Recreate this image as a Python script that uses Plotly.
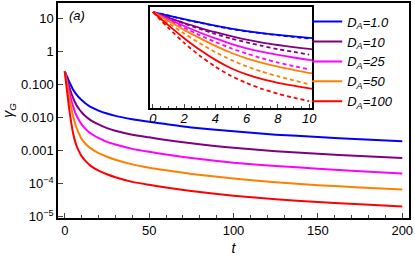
import plotly.graph_objects as go

# time samples (main panel)
T = [0, 1, 2, 3, 4, 5, 6, 7, 8, 9, 10, 12, 15, 20, 25, 30, 40, 50, 60, 75, 100, 125, 150, 175, 200]

# log10(gamma_G), solid curves
LOG_D1 = [-0.60, -0.72, -0.84, -0.95, -1.06, -1.16, -1.24, -1.31, -1.37, -1.42, -1.47,
          -1.56, -1.67, -1.79, -1.88, -1.95, -2.05, -2.13, -2.20, -2.30, -2.42, -2.52, -2.59, -2.66, -2.72]
LOG_D10 = [-0.60, -0.79, -0.97, -1.13, -1.28, -1.41, -1.53, -1.63, -1.71, -1.78, -1.84,
           -1.95, -2.07, -2.21, -2.32, -2.40, -2.52, -2.60, -2.68, -2.78, -2.92, -3.02, -3.10, -3.17, -3.23]
LOG_D25 = [-0.60, -0.84, -1.07, -1.29, -1.49, -1.67, -1.82, -1.94, -2.04, -2.13, -2.21,
           -2.33, -2.47, -2.62, -2.74, -2.82, -2.95, -3.04, -3.12, -3.23, -3.37, -3.47, -3.55, -3.63, -3.70]
LOG_D50 = [-0.60, -0.90, -1.20, -1.48, -1.74, -1.97, -2.16, -2.31, -2.44, -2.55, -2.65,
           -2.78, -2.92, -3.08, -3.19, -3.28, -3.42, -3.52, -3.60, -3.71, -3.85, -3.96, -4.05, -4.12, -4.18]
LOG_D100 = [-0.60, -1.05, -1.48, -1.87, -2.21, -2.49, -2.70, -2.86, -2.98, -3.08, -3.17,
            -3.30, -3.45, -3.61, -3.72, -3.81, -3.95, -4.04, -4.12, -4.23, -4.37, -4.48, -4.56, -4.63, -4.70]

# inset dashed curves (t = 0..10)
T_INSET = [0, 1, 2, 3, 4, 5, 6, 7, 8, 9, 10]
LOGD_D1 = [-0.60, -0.72, -0.85, -0.96, -1.07, -1.17, -1.25, -1.32, -1.38, -1.44, -1.49]
LOGD_D10 = [-0.60, -0.80, -0.99, -1.17, -1.34, -1.49, -1.62, -1.74, -1.85, -1.94, -2.03]
LOGD_D25 = [-0.60, -0.87, -1.13, -1.38, -1.61, -1.82, -2.00, -2.16, -2.30, -2.42, -2.53]
LOGD_D50 = [-0.60, -0.97, -1.32, -1.65, -1.95, -2.21, -2.43, -2.61, -2.76, -2.90, -3.03]
LOGD_D100 = [-0.60, -1.14, -1.64, -2.07, -2.44, -2.75, -2.99, -3.19, -3.35, -3.48, -3.60]

LABELS = ["<i>D<sub>A</sub>=1.0</i>", "<i>D<sub>A</sub>=10</i>", "<i>D<sub>A</sub>=25</i>",
          "<i>D<sub>A</sub>=50</i>", "<i>D<sub>A</sub>=100</i>"]
COLORS = ["#0000ff", "#800080", "#ff00ff", "#ff8000", "#ff0000"]

Y_TICKVALS = [1e1, 1, 1e-1, 1e-2, 1e-3, 1e-4, 1e-5]
Y_TICKTEXT = ["10", "1", "0.100", "0.010", "0.001", "10<sup>\u22124</sup>", "10<sup>\u22125</sup>"]
X_TICKVALS = [0, 50, 100, 150, 200]
XI_TICKVALS = [0, 2, 4, 6, 8, 10]

solid = [LOG_D1, LOG_D10, LOG_D25, LOG_D50, LOG_D100]
dashed = [LOGD_D1, LOGD_D10, LOGD_D25, LOGD_D50, LOGD_D100]

FONT = "Liberation Sans, Arial, sans-serif"

fig = go.Figure()
for lab, col, s in zip(LABELS, COLORS, solid):
    fig.add_trace(go.Scatter(x=T, y=[10 ** v for v in s], mode="lines", name=lab,
                             line=dict(color=col, width=2, shape="spline", smoothing=0.6),
                             xaxis="x", yaxis="y"))
for lab, col, s, d in zip(LABELS, COLORS, solid, dashed):
    fig.add_trace(go.Scatter(x=T, y=[10 ** v for v in s], mode="lines", showlegend=False,
                             line=dict(color=col, width=1.8, shape="spline", smoothing=0.6),
                             xaxis="x2", yaxis="y2"))
    fig.add_trace(go.Scatter(x=T_INSET, y=[10 ** v for v in d], mode="lines", showlegend=False,
                             line=dict(color=col, width=1.8, dash="4px,3px", shape="spline", smoothing=0.6),
                             xaxis="x2", yaxis="y2"))

fig.update_layout(
    width=415, height=262,
    margin=dict(l=58, r=5, t=1, b=44),
    paper_bgcolor="white", plot_bgcolor="white",
    font=dict(family=FONT, size=13, color="black"),
    xaxis=dict(domain=[0, 1], range=[-4, 204], tickvals=X_TICKVALS, ticks="inside", ticklen=5,
               tickwidth=1, showline=True, linecolor="black", linewidth=1.5, mirror=True,
               showgrid=False, zeroline=False,
               minor=dict(dtick=10, ticks="inside", ticklen=3, tickwidth=1, showgrid=False),
               title=dict(text="<i>t</i>", font=dict(size=14), standoff=6)),
    yaxis=dict(domain=[0, 1], type="log", range=[-5.045, 1.47], tickvals=Y_TICKVALS,
               ticktext=Y_TICKTEXT, ticks="inside", ticklen=5, tickwidth=1, showline=True,
               linecolor="black", linewidth=1.5, mirror=True, showgrid=False, zeroline=False,
               title=dict(text="<i>\u03b3<sub>G</sub></i>", font=dict(size=14), standoff=4)),
    xaxis2=dict(domain=[0.2614, 0.7244], anchor="y2", range=[-0.2, 10.2], tickvals=XI_TICKVALS,
                ticks="inside", ticklen=4, tickwidth=1, showline=True, linecolor="black",
                linewidth=2, mirror=True, showgrid=False, zeroline=False,
                tickfont=dict(size=13, style="italic"), ticklabelstandoff=-3,
                minor=dict(dtick=0.5, ticks="inside", ticklen=2, tickwidth=1, showgrid=False)),
    yaxis2=dict(domain=[0.5115, 0.9816], anchor="x2", type="log", range=[-3.83, -0.43],
                showticklabels=False, ticks="", showline=True, linecolor="black", linewidth=2,
                mirror=True, showgrid=False, zeroline=False),
    legend=dict(x=0.71, y=0.983, xanchor="left", yanchor="top", bgcolor="rgba(0,0,0,0)",
                font=dict(size=13), tracegroupgap=0, itemwidth=30),
    annotations=[dict(text="<i>(a)</i>", x=0.025, y=0.985, xref="paper", yref="paper",
                      xanchor="left", yanchor="top", showarrow=False, font=dict(size=13))],
)

fig.write_html("out.html", config={"displayModeBar": False},
               post_script="document.body.style.margin='0';document.body.style.padding='0';")
